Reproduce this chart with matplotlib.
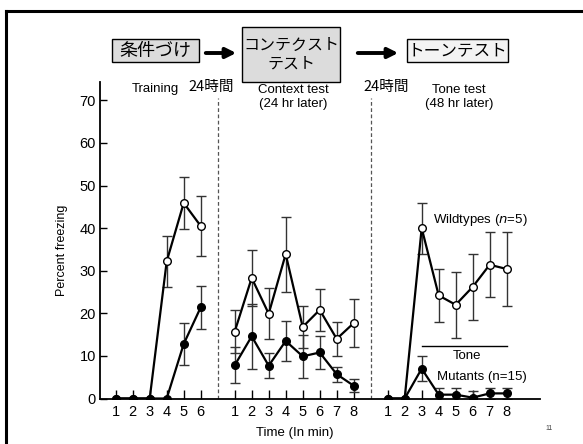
import matplotlib
matplotlib.use('Agg')
import matplotlib.pyplot as plt
import numpy as np
from matplotlib.lines import Line2D
from matplotlib.patches import Rectangle, FancyArrowPatch

plt.rcParams['font.family'] = ['Liberation Sans', 'DejaVu Sans']
JP = ['Noto Sans CJK JP', 'DejaVu Sans']

# data (percent freezing)
train_min = [1, 2, 3, 4, 5, 6]
train_wt = [0, 0, 0, 32.2, 45.9, 40.5]
train_wt_err = [0, 0, 0, 6.0, 6.0, 7.0]
train_mut = [0, 0, 0, 0, 12.8, 21.4]
train_mut_err = [0, 0, 0, 0, 4.9, 5.1]

context_min = [1, 2, 3, 4, 5, 6, 7, 8]
context_wt = [15.7, 28.3, 19.9, 33.9, 16.8, 20.8, 14.0, 17.7]
context_wt_err = [5.0, 6.5, 6.0, 8.8, 5.0, 5.0, 4.0, 5.7]
context_mut = [7.8, 14.6, 7.7, 13.5, 9.9, 10.8, 5.7, 3.0]
context_mut_err = [4.2, 7.7, 3.0, 4.8, 5.0, 3.9, 1.8, 1.5]

tone_min = [1, 2, 3, 4, 5, 6, 7, 8]
tone_wt = [0, 0, 40.0, 24.2, 22.0, 26.2, 31.4, 30.4]
tone_wt_err = [0, 0, 6.0, 6.2, 7.7, 7.8, 7.6, 8.7]
tone_mut = [0, 0, 7.0, 0.9, 0.9, 0.2, 1.2, 1.2]
tone_mut_err = [0, 0, 3.0, 1.6, 1.6, 1.5, 1.3, 1.3]
tone_bar_level = 12.3

# each session sits on one shared x axis, with a gap between sessions
offsets = [0, 7, 16]
sessions = [
    (train_min, train_wt, train_wt_err, train_mut, train_mut_err),
    (context_min, context_wt, context_wt_err, context_mut, context_mut_err),
    (tone_min, tone_wt, tone_wt_err, tone_mut, tone_mut_err),
]

W, H = 583, 444
def fx(x):
    return x / W
def fy(y):
    return 1 - y / H

fig = plt.figure(figsize=(W / 100, H / 100), dpi=100)
ax = fig.add_axes([fx(100), fy(398.5), 440 / W, 316.5 / H])

def draw_series(x, y, err, filled):
    x = np.asarray(x, float)
    y = np.asarray(y, float)
    err = np.asarray(err, float)
    m = err > 0
    ax.errorbar(x[m], y[m], yerr=err[m], fmt='none', ecolor='#333333',
                elinewidth=1.0, capsize=3.5, capthick=1.0, zorder=2)
    ax.plot(x, y, '-', color='black', lw=1.6, zorder=3,
            marker='o', markersize=5.5,
            markerfacecolor='black' if filled else 'white',
            markeredgecolor='black', markeredgewidth=1.0)

ticks, labels = [], []
for off, (mins, wt, wt_err, mut, mut_err) in zip(offsets, sessions):
    xs = [m + off for m in mins]
    draw_series(xs, wt, wt_err, False)
    draw_series(xs, mut, mut_err, True)
    ticks += xs
    labels += [str(m) for m in mins]

# session separators
for xd in [7, 16]:
    ax.plot([xd, xd], [0, 70.6], color='#555555', lw=0.9, ls=(0, (3, 2)), zorder=1)

# tone period bar + series labels
ax.plot([19, 24], [tone_bar_level, tone_bar_level], color='black', lw=1.0)
ax.text(21.65, 10.0, 'Tone', ha='center', va='center', fontsize=9.5)
ax.text(19.66, 41.8, 'Wildtypes ($n$=5)', ha='left', va='center', fontsize=9.5)
ax.text(19.9, 5.0, 'Mutants (n=15)', ha='left', va='center', fontsize=9.5)

ax.set_xlim(0.076, 25.96)
ax.set_ylim(0, 74.3)
ax.set_xticks(ticks)
ax.set_xticklabels(labels)
ax.set_yticks(range(0, 71, 10))
ax.tick_params(axis='x', direction='in', length=6.5, width=1.0, pad=5, labelsize=10.5)
ax.tick_params(axis='y', direction='in', length=5, width=1.0, pad=3, labelsize=10.5)
for s in ['top', 'right']:
    ax.spines[s].set_visible(False)
for s in ['left', 'bottom']:
    ax.spines[s].set_linewidth(1.3)

fig.text(fx(62), fy(250), 'Percent freezing', rotation=90, ha='center', va='center', fontsize=9)
fig.text(fx(295), fy(433), 'Time (In min)', ha='center', va='center', fontsize=9.5)

# session headings
fig.text(fx(155), fy(89), 'Training', ha='center', va='center', fontsize=9.5)
fig.text(fx(293), fy(90), 'Context test', ha='center', va='center', fontsize=9.5)
fig.text(fx(293), fy(104), '(24 hr later)', ha='center', va='center', fontsize=9.5)
fig.text(fx(459), fy(90), 'Tone test', ha='center', va='center', fontsize=9.5)
fig.text(fx(459), fy(104), '(48 hr later)', ha='center', va='center', fontsize=9.5)
fig.text(fx(211), fy(87), '24時間', ha='center', va='center', fontsize=10.5, family=JP)
fig.text(fx(386), fy(87), '24時間', ha='center', va='center', fontsize=10.5, family=JP)

# flow boxes on top
boxes = [
    ((112, 39, 199, 62), '#dcdcdc', '条件づけ', 13),
    ((242, 27, 340, 82), '#dcdcdc', 'コンテクスト\nテスト', 11.5),
    ((407, 39, 508, 62), '#f3f3f3', 'トーンテスト', 12),
]
for (x0, y0, x1, y1), fc, txt, fs in boxes:
    fig.add_artist(Rectangle((fx(x0), fy(y1)), (x1 - x0) / W, (y1 - y0) / H,
                             transform=fig.transFigure, facecolor=fc,
                             edgecolor='black', lw=1.0))
    fig.text(fx((x0 + x1) / 2), fy((y0 + y1) / 2), txt, ha='center', va='center',
             fontsize=fs, family=JP, linespacing=1.15)

for xa, xb in [(203, 239), (355, 401)]:
    fig.add_artist(FancyArrowPatch((fx(xa), fy(53)), (fx(xb), fy(53)),
                                   transform=fig.transFigure, arrowstyle='-|>',
                                   mutation_scale=15, lw=2.8, color='black'))

# slide frame and page number
fig.add_artist(Line2D([fx(6), fx(6)], [fy(11), 0], color='black', lw=2.2))
fig.add_artist(Line2D([fx(6), 1], [fy(11), fy(11)], color='black', lw=2.2))
fig.text(fx(549), fy(428), '11', ha='center', va='center', fontsize=5, color='#444444')

fig.savefig('out.png', dpi=100)
